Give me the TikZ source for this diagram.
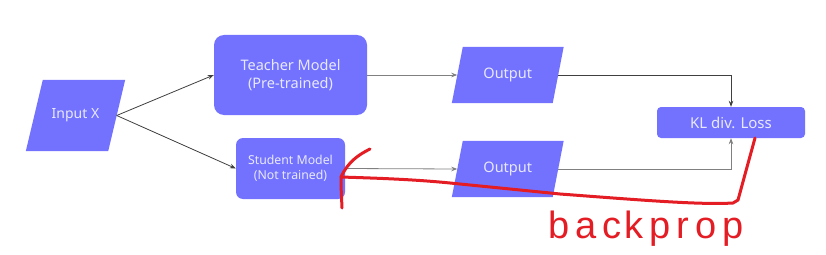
\documentclass[tikz,border=0pt]{standalone}
\usepackage{fontspec}
\setmainfont{Noto Sans}
\newfontfamily\handfont{Liberation Sans}
\usetikzlibrary{arrows.meta,backgrounds}
\definecolor{boxc}{RGB}{114,114,255}
\definecolor{boxtxt}{RGB}{232,232,255}
\definecolor{penred}{RGB}{228,28,36}
\tikzset{
  x=1pt,y=-1pt,
  box/.style={fill=boxc,draw=none,text=boxtxt,align=center,inner sep=0pt},
  para/.style={draw=none,text=boxtxt,align=center,inner sep=0pt},
  conn/.style={draw=black!75,line width=0.8pt,-{Stealth[length=6pt,width=4.5pt]}},
  connl/.style={draw=black!50,line width=0.8pt,-{Stealth[length=6pt,width=4.5pt]}},
  pen/.style={draw=penred,line width=3pt,line cap=round,line join=round},
}
\newcommand{\parafill}[2]{%
  \fill[boxc] ([xshift=#2]#1.north west) -- ([xshift=#2]#1.north east) --
    ([xshift=-#2]#1.south east) -- ([xshift=-#2]#1.south west) -- cycle;}
\begin{document}
\begin{tikzpicture}
\useasboundingbox (0,0) rectangle (826,254);
\node[para,minimum width=82pt,minimum height=71pt,font=\fontsize{14}{16}\selectfont] (in) at (75.5,115.5) {Input X};
\node[box,rounded corners=10pt,minimum width=153pt,minimum height=80pt,font=\fontsize{14.5}{18.5}\selectfont] (teacher) at (290.5,75) {Teacher Model\\(Pre-trained)};
\node[box,rounded corners=7pt,minimum width=109pt,minimum height=61pt,font=\fontsize{12.3}{15}\selectfont] (student) at (290.5,168.5) {Student Model\\(Not trained)};
\node[para,minimum width=100.5pt,minimum height=56pt,font=\fontsize{14.5}{16}\selectfont] (out1) at (507.75,75) {Output};
\node[para,minimum width=100.5pt,minimum height=56pt,font=\fontsize{14.5}{16}\selectfont] (out2) at (507.75,169) {Output};
\node[box,rounded corners=4pt,minimum width=148pt,minimum height=31pt,font=\fontsize{15}{16}\selectfont] (kl) at (731,122.5) {KL div. Loss};
\begin{scope}[on background layer]
\fill[white] (0,0) rectangle (826,254);
\parafill{in}{8.5pt}
\parafill{out1}{5.5pt}
\parafill{out2}{5.5pt}
\end{scope}
\draw[conn] (in.east) -- (teacher.west);
\draw[conn] (in.east) -- (student.west);
\draw[connl] (teacher.east) -- (out1.west);
\draw[connl] (student.east) -- (out2.west);
\draw[conn] (out1.east) -| (kl.north);
\draw[connl] (out2.east) -| (kl.south);
% backprop annotation
\coordinate (b0) at (755,138);
\coordinate (b1) at (733,203);
\coordinate (b2) at (341,177);
\coordinate (h1) at (370,149);
\coordinate (h2) at (342,208);
\draw[pen] (b0) -- (744,178) -- (738,200) -- (b1)
  .. controls (700,205) and (640,200) .. (560,194)
  -- (450,183) .. controls (410,179) and (370,178) .. (b2);
\draw[pen] (h2) -- (341,185) -- (b2) .. controls (348,162) and (358,155) .. (h1);
\node[text=penred,font=\handfont\fontsize{38}{40}\selectfont,inner sep=0pt] (bp) at (646,229) {b\kern6pt a\kern6pt c\kern3pt k\kern6pt p\kern6pt r\kern6pt o\kern6pt p};
\end{tikzpicture}
\end{document}
